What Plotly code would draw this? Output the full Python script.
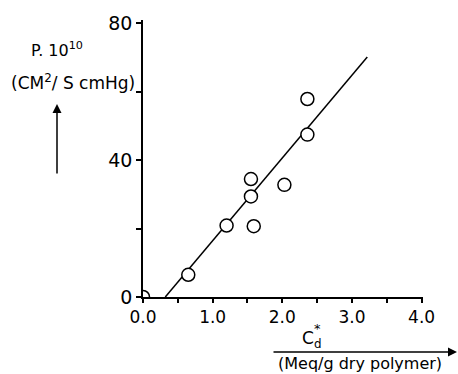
import plotly.graph_objects as go

# data
cd_x = [0.0, 0.65, 1.2, 1.55, 1.55, 1.59, 2.03, 2.36, 2.36]
perm_y = [0.0, 6.5, 20.9, 34.5, 29.4, 20.7, 32.8, 47.5, 57.9]
fit_x = [0.32, 3.22]
fit_y = [0.0, 70.2]
x_tickvals = [0, 0.5, 1, 1.5, 2, 2.5, 3, 3.5, 4]
x_ticktext = ["0.0", "", "1.0", "", "2.0", "", "3.0", "", "4.0"]
y_tickvals = [0, 20, 40, 60, 80]
y_ticktext = ["0", "", "40", "", "80"]

W, H = 458, 374
L, R, T, B = 143, 35, 20, 77
pw, ph = W - L - R, H - T - B


def px(x):
    return (x - L) / pw


def py(y):
    return (H - B - y) / ph


FONT = "DejaVu Sans"

fig = go.Figure()
fig.add_trace(go.Scatter(x=fit_x, y=fit_y, mode="lines",
                         line=dict(color="black", width=1.5), showlegend=False))
fig.add_trace(go.Scatter(x=cd_x, y=perm_y, mode="markers", cliponaxis=True,
                         marker=dict(size=13, color="white",
                                     line=dict(color="black", width=1.5)),
                         showlegend=False))

fig.update_layout(
    width=W, height=H,
    margin=dict(l=L, r=R, t=T, b=B),
    plot_bgcolor="white", paper_bgcolor="white",
    font=dict(family=FONT, color="black"),
    xaxis=dict(range=[0, 4.02], showline=True, linecolor="black", linewidth=1.5,
               showgrid=False, zeroline=False, ticks="outside", ticklen=4,
               tickwidth=1.5, tickcolor="black", tickvals=x_tickvals,
               ticktext=x_ticktext, tickfont=dict(size=17, family=FONT)),
    yaxis=dict(range=[0, 81], showline=True, linecolor="black", linewidth=1.5,
               showgrid=False, zeroline=False, ticks="outside", ticklen=5,
               tickwidth=1.5, tickcolor="black", tickvals=y_tickvals,
               ticktext=y_ticktext, tickfont=dict(size=19, family=FONT)),
)

ann = [
    dict(text="P. 10<sup>10</sup>", x=px(57), y=py(49), font=dict(size=16)),
    dict(text="(CM<sup>2</sup>/ S cmHg)", x=px(73), y=py(82), font=dict(size=17)),
    dict(text="C<sub>d</sub>", x=px(311), y=py(339), font=dict(size=17)),
    dict(text="*", x=px(317), y=py(328), font=dict(size=13)),
    dict(text="(Meq/g dry polymer)", x=px(360), y=py(364), font=dict(size=16)),
]
for a in ann:
    fig.add_annotation(xref="paper", yref="paper", showarrow=False,
                       xanchor="center", yanchor="middle", **a)

# vertical arrow next to the y title
fig.add_annotation(xref="paper", yref="paper", x=px(57), y=py(104), text="",
                   showarrow=True, ax=0, ay=71, arrowhead=2, arrowsize=1.2,
                   arrowwidth=1.5, arrowcolor="black")
# horizontal arrow above the x-unit
fig.add_annotation(xref="paper", yref="paper", x=px(457), y=py(352), text="",
                   showarrow=True, ax=-185, ay=0, arrowhead=2, arrowsize=1.2,
                   arrowwidth=1.5, arrowcolor="black")

fig.write_html("out.html")
